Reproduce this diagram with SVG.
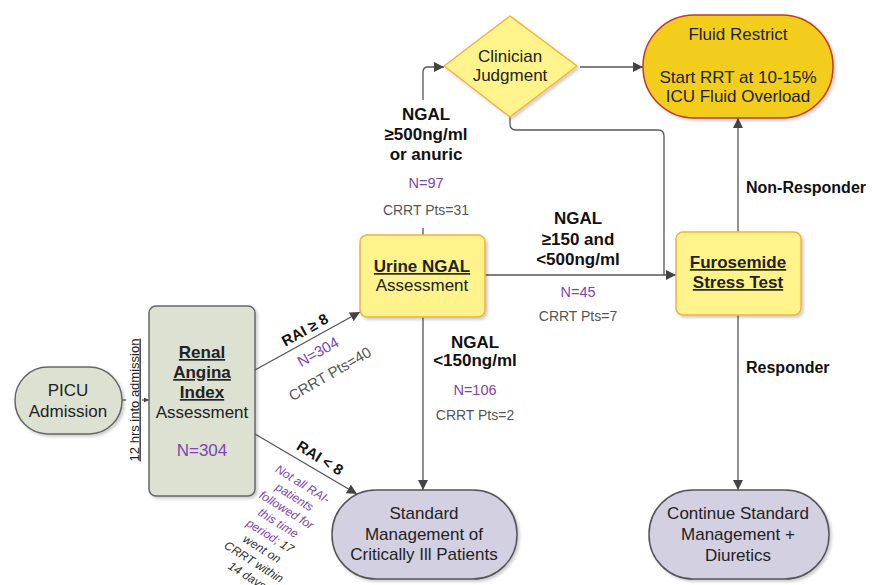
<svg xmlns="http://www.w3.org/2000/svg" width="876" height="585" viewBox="0 0 876 585">
<defs>
<marker id="ah" markerUnits="userSpaceOnUse" markerWidth="11" markerHeight="11" refX="10" refY="5" orient="auto"><path d="M0,0 L10,5 L0,10 z" fill="#444"/></marker>
<marker id="ahs" markerUnits="userSpaceOnUse" markerWidth="6" markerHeight="6" refX="5" refY="2.5" orient="auto"><path d="M0,0 L5,2.5 L0,5 z" fill="#444"/></marker>
<filter id="sh" x="-10%" y="-10%" width="125%" height="125%"><feDropShadow dx="2" dy="2" stdDeviation="1.5" flood-color="#000" flood-opacity="0.2"/></filter>
</defs>
<style>
text{font-family:"Liberation Sans",Arial,sans-serif;fill:#222}
.n{font-size:17px;text-anchor:middle}
.b{font-weight:bold}
.u{text-decoration:underline}
.lab{font-size:17px;font-weight:bold;text-anchor:middle;fill:#111}
.np{font-size:14.5px;text-anchor:middle;fill:#7E45B0}
.cr{font-size:14px;text-anchor:middle;fill:#555}
.pu{fill:#7E45B0}
.dk{fill:#333}
.gr{fill:#555}
.bk{fill:#111}
.grey{fill:#DCE1D2;stroke:#666;stroke-width:1.5}
.yel{fill:#FFF38C;stroke:#F2B23A;stroke-width:1.5}
.lav{fill:#D3D0E2;stroke:#555;stroke-width:1.5}
.con{fill:none;stroke:#555;stroke-width:1.3}
</style>
<rect width="876" height="585" fill="#fff"/>

<g id="connectors">
<path class="con" d="M122,400 H149" marker-end="url(#ahs)"/>
<path class="con" d="M255,370 L360,312" marker-end="url(#ah)"/>
<path class="con" d="M255,434 L357,494" marker-end="url(#ah)"/>
<path class="con" d="M423,317 V490" marker-end="url(#ah)"/>
<path class="con" d="M423,235 V72 Q423,67 428,67 H444" marker-end="url(#ah)"/>
<path class="con" d="M580,67 H643" marker-end="url(#ah)"/>
<path class="con" d="M510,117 V124 Q510,130 516,130 H658 Q664,130 664,136 V275"/>
<path class="con" d="M485,275 H676" marker-end="url(#ah)"/>
<path class="con" d="M738,232 V118" marker-end="url(#ah)"/>
<path class="con" d="M738,315 V490" marker-end="url(#ah)"/>
</g>

<g id="labels">
<rect x="126" y="335" width="16" height="130" fill="#fff"/>
<text transform="translate(138.5,400) rotate(-90)" font-size="13" text-anchor="middle" class="u">12 hrs into admission</text>

<g transform="translate(305,330) rotate(-29)"><text y="5" font-size="15" font-weight="bold" text-anchor="middle" class="bk">RAI ≥ 8</text></g>
<g transform="translate(318,352) rotate(-29)"><text y="5" font-size="15" text-anchor="middle" class="pu">N=304</text></g>
<g transform="translate(330,374) rotate(-30)"><text y="5" font-size="15" text-anchor="middle" class="gr">CRRT Pts=40</text></g>

<g transform="translate(320,458) rotate(32)"><text y="5" font-size="15" font-weight="bold" text-anchor="middle" class="bk">RAI &lt; 8</text></g>
<g transform="translate(304,485) rotate(32)">
<text font-size="12" font-style="italic" text-anchor="middle" class="pu">
<tspan x="0" y="4">Not all RAI-</tspan>
<tspan x="0" dy="15.3">patients</tspan>
<tspan x="0" dy="15.3">followed for</tspan>
<tspan x="0" dy="15.3">this time</tspan>
<tspan x="0" dy="15.3">period; <tspan class="dk">17</tspan></tspan>
<tspan x="0" dy="15.3" class="dk">went on</tspan>
<tspan x="0" dy="15.3" class="dk">CRRT within</tspan>
<tspan x="0" dy="15.3" class="dk">14 days</tspan>
</text>
</g>

<rect x="378" y="100" width="96" height="128" fill="#fff"/>
<text class="lab" x="426" y="120">NGAL</text>
<text class="lab" x="426" y="140">≥500ng/ml</text>
<text class="lab" x="426" y="160">or anuric</text>
<text class="np" x="426" y="188">N=97</text>
<text class="cr" x="426" y="215">CRRT Pts=31</text>

<text class="lab" x="578" y="224">NGAL</text>
<text class="lab" x="578" y="245">≥150 and</text>
<text class="lab" x="578" y="265">&lt;500ng/ml</text>
<text class="np" x="578" y="297">N=45</text>
<text class="cr" x="578" y="321">CRRT Pts=7</text>

<text class="lab" x="475" y="348">NGAL</text>
<text class="lab" x="475" y="366">&lt;150ng/ml</text>
<text class="np" x="475" y="395">N=106</text>
<text class="cr" x="475" y="420">CRRT Pts=2</text>

<text x="746" y="193" font-size="16" font-weight="bold" class="bk">Non-Responder</text>
<text x="746" y="373" font-size="16" font-weight="bold" class="bk">Responder</text>
</g>

<g id="picu">
<rect class="grey" x="15" y="367" width="107" height="67" rx="33" filter="url(#sh)"/>
<text class="n" x="68" y="396">PICU</text>
<text class="n" x="68" y="417">Admission</text>
</g>

<g id="rai">
<rect class="grey" x="149" y="306" width="106" height="190" rx="7" filter="url(#sh)"/>
<text class="n b u" x="202" y="358">Renal</text>
<text class="n b u" x="202" y="378">Angina</text>
<text class="n b u" x="202" y="398">Index</text>
<text class="n" x="202" y="418">Assessment</text>
<text class="n pu" x="202" y="456">N=304</text>
</g>

<g id="urine-ngal">
<rect class="yel" x="360" y="235" width="125" height="82" rx="7" filter="url(#sh)"/>
<text class="n b u" x="422" y="272">Urine NGAL</text>
<text class="n" x="422" y="291">Assessment</text>
</g>

<g id="clinician">
<polygon class="yel" points="444,66 510,16 577,66 510,117" stroke-linejoin="round" filter="url(#sh)"/>
<text class="n" x="510" y="62">Clinician</text>
<text class="n" x="510" y="81">Judgment</text>
</g>

<g id="fluid-restrict">
<rect x="643" y="15" width="190" height="103" rx="51" fill="#F3CD1A" stroke="#C0392B" stroke-width="1.5" filter="url(#sh)"/>
<text class="n" x="738" y="40">Fluid Restrict</text>
<text class="n" x="738" y="83">Start RRT at 10-15%</text>
<text class="n" x="738" y="102">ICU Fluid Overload</text>
</g>

<g id="furosemide">
<rect class="yel" x="676" y="232" width="125" height="83" rx="7" filter="url(#sh)"/>
<text class="n b u" x="738" y="268">Furosemide</text>
<text class="n b u" x="738" y="288">Stress Test</text>
</g>

<g id="standard">
<rect class="lav" x="332" y="490" width="185" height="89" rx="44" filter="url(#sh)"/>
<text class="n" x="424" y="519">Standard</text>
<text class="n" x="424" y="540">Management of</text>
<text class="n" x="424" y="560">Critically Ill Patients</text>
</g>

<g id="continue">
<rect class="lav" x="649" y="490" width="180" height="89" rx="44" filter="url(#sh)"/>
<text class="n" x="738" y="519">Continue Standard</text>
<text class="n" x="738" y="540">Management +</text>
<text class="n" x="738" y="561">Diuretics</text>
</g>
</svg>
